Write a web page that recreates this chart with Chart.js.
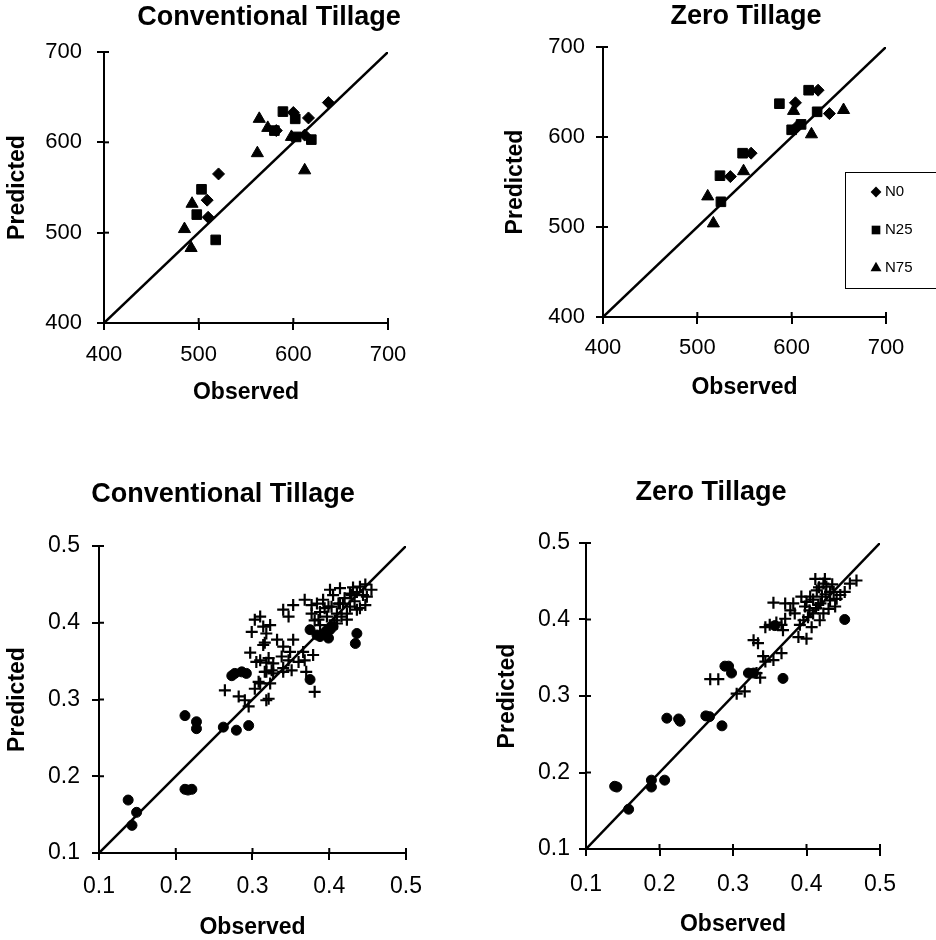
<!DOCTYPE html>
<html>
<head>
<meta charset="utf-8">
<script src="https://cdn.jsdelivr.net/npm/chart.js@4.4.1/dist/chart.umd.min.js"></script>
<style>
html,body{margin:0;padding:0;background:#fff;overflow:hidden;width:936px;height:940px;}
.panel{position:absolute;}
canvas{display:block;}
</style>
</head>
<body>
<div class="panel" style="left:0px;top:0px"><canvas id="c1" width="538" height="407"></canvas></div>
<div class="panel" style="left:500px;top:0px"><canvas id="c2" width="492" height="402"></canvas></div>
<div class="panel" style="left:0px;top:440px"><canvas id="c3" width="446" height="502"></canvas></div>
<div class="panel" style="left:490px;top:440px"><canvas id="c4" width="442" height="499"></canvas></div>
<script>
// ---------- DATA ----------
const panelTitles = ['Conventional Tillage', 'Zero Tillage', 'Conventional Tillage', 'Zero Tillage'];
const xAxisTitle = 'Observed';
const yAxisTitle = 'Predicted';
const yieldTicks = [400, 500, 600, 700];
const ratioTicks = [0.1, 0.2, 0.3, 0.4, 0.5];
const nitrogenSeries = ['N0', 'N25', 'N75'];

// Conventional tillage (top-left) [observed, predicted]
const ctN0 = [[637,644],[616,627],[600,633],[582,613],[612,608],[521,565],[509,536],[510,517]];
const ctN25 = [[589,634],[602,626],[580,613],[603,606],[619,603],[503,548],[498,520],[518,492]];
const ctN75 = [[564,626],[573,616],[598,606],[562,588],[612,569],[493,532],[485,504],[492,483]];

// Zero tillage (top-right)
const ztN0 = [[628,652],[604,638],[640,626],[606,612],[557,582],[535,556]];
const ztN25 = [[618,652],[587,637],[627,628],[600,608],[610,614],[548,582],[524,557],[525,528]];
const ztN75 = [[602,629],[655,630],[621,603],[549,562],[511,534],[517,504]];

// Conventional tillage (bottom-left)
const ctCircles = [[0.138,0.169],[0.149,0.153],[0.143,0.136],[0.212,0.183],[0.216,0.182],[0.221,0.183],
  [0.212,0.279],[0.227,0.271],[0.227,0.262],[0.262,0.264],[0.279,0.260],[0.295,0.266],
  [0.273,0.331],[0.277,0.334],[0.286,0.336],[0.292,0.334],[0.375,0.326],[0.375,0.391],
  [0.384,0.384],[0.388,0.382],[0.394,0.386],[0.399,0.380],[0.401,0.391],[0.405,0.395],
  [0.396,0.389],[0.436,0.386],[0.434,0.373]];
const ctCrosses = [[0.264,0.312],[0.282,0.304],[0.295,0.291],[0.290,0.299],[0.303,0.314],[0.310,0.321],
  [0.318,0.299],[0.323,0.321],[0.318,0.336],[0.327,0.334],[0.297,0.361],[0.305,0.349],[0.318,0.348],
  [0.310,0.408],[0.303,0.404],[0.299,0.388],[0.314,0.395],[0.323,0.397],[0.318,0.386],[0.316,0.374],
  [0.332,0.378],[0.310,0.351],[0.321,0.354],[0.327,0.347],[0.316,0.336],[0.325,0.338],[0.308,0.323],
  [0.321,0.301],[0.314,0.371],[0.340,0.417],[0.347,0.408],[0.353,0.423],[0.353,0.378],[0.340,0.369],
  [0.349,0.362],[0.338,0.356],[0.347,0.351],[0.360,0.349],[0.340,0.341],[0.351,0.338],[0.368,0.351],
  [0.366,0.362],[0.379,0.358],[0.370,0.336],[0.381,0.310],[0.340,0.336],[0.368,0.430],[0.377,0.423],
  [0.377,0.412],[0.388,0.414],[0.392,0.430],[0.399,0.421],[0.405,0.436],[0.410,0.412],[0.414,0.445],
  [0.418,0.425],[0.427,0.438],[0.431,0.446],[0.440,0.447],[0.447,0.450],[0.455,0.443],[0.449,0.434],
  [0.447,0.423],[0.436,0.417],[0.423,0.404],[0.410,0.399],[0.397,0.408],[0.386,0.404],[0.414,0.425],
  [0.401,0.443],[0.381,0.403],[0.388,0.397],[0.407,0.403],[0.423,0.412],[0.384,0.425],[0.394,0.419],
  [0.412,0.425],[0.416,0.408],[0.429,0.436],[0.436,0.440],[0.444,0.436],[0.427,0.421],[0.440,0.419],
  [0.403,0.421],[0.420,0.432],[0.433,0.428]];

// Zero tillage (bottom-right)
const ztCircles = [[0.139,0.182],[0.142,0.181],[0.158,0.152],[0.189,0.190],[0.189,0.181],[0.207,0.190],
  [0.210,0.271],[0.226,0.270],[0.228,0.267],[0.263,0.274],[0.268,0.273],[0.285,0.261],
  [0.289,0.339],[0.294,0.339],[0.298,0.330],[0.321,0.330],[0.328,0.330],[0.368,0.323],
  [0.357,0.392],[0.452,0.400]];
const ztCrosses = [[0.269,0.322],[0.280,0.322],[0.305,0.303],[0.316,0.306],[0.332,0.330],[0.337,0.324],
  [0.328,0.373],[0.334,0.369],[0.341,0.352],[0.344,0.345],[0.355,0.347],[0.366,0.356],[0.366,0.393],
  [0.344,0.390],[0.350,0.393],[0.359,0.396],[0.368,0.386],[0.371,0.401],[0.355,0.422],[0.371,0.421],
  [0.389,0.377],[0.400,0.375],[0.391,0.393],[0.384,0.408],[0.393,0.430],[0.398,0.417],[0.402,0.403],
  [0.407,0.390],[0.412,0.453],[0.425,0.453],[0.414,0.438],[0.421,0.430],[0.416,0.419],[0.423,0.408],
  [0.427,0.443],[0.432,0.425],[0.437,0.436],[0.439,0.417],[0.446,0.432],[0.452,0.436],[0.459,0.447],
  [0.468,0.451],[0.409,0.426],[0.409,0.408],[0.430,0.414],[0.418,0.399],[0.396,0.399],[0.405,0.430],
  [0.423,0.447],[0.382,0.421],[0.378,0.412],[0.432,0.436],[0.441,0.427],[0.413,0.415],[0.419,0.421],
  [0.426,0.433],[0.404,0.412],[0.417,0.442],[0.400,0.423],[0.435,0.446]];

// ---------- RENDERING ----------
const FONT = "'Liberation Sans', Arial, Helvetica, sans-serif";
Chart.defaults.font.family = FONT;
Chart.defaults.color = '#000';

const toXY = arr => arr.map(p => ({x: p[0], y: p[1]}));

const innerTicks = {
  id: 'innerTicks',
  afterDatasetsDraw(chart, args, o) {
    const {ctx, chartArea: a} = chart;
    const len = o.len || 5;
    ctx.save();
    ctx.strokeStyle = '#000';
    ctx.lineWidth = 2;
    chart.scales.x.ticks.forEach(t => {
      const p = chart.scales.x.getPixelForValue(t.value);
      ctx.beginPath(); ctx.moveTo(p, a.bottom); ctx.lineTo(p, a.bottom - len); ctx.stroke();
    });
    chart.scales.y.ticks.forEach(t => {
      const p = chart.scales.y.getPixelForValue(t.value);
      ctx.beginPath(); ctx.moveTo(a.left, p); ctx.lineTo(a.left + len, p); ctx.stroke();
    });
    ctx.restore();
  }
};

function drawSymbol(ctx, style, x, y, r) {
  ctx.beginPath();
  if (style === 'rectRot') {
    ctx.moveTo(x, y - r); ctx.lineTo(x + r, y); ctx.lineTo(x, y + r); ctx.lineTo(x - r, y);
  } else if (style === 'rect') {
    const s = r * Math.SQRT1_2;
    ctx.rect(x - s, y - s, 2 * s, 2 * s);
  } else {
    ctx.moveTo(x, y - r);
    ctx.lineTo(x + r * Math.sin(Math.PI * 2 / 3), y - r * Math.cos(Math.PI * 2 / 3));
    ctx.lineTo(x + r * Math.sin(Math.PI * 4 / 3), y - r * Math.cos(Math.PI * 4 / 3));
  }
  ctx.closePath();
  ctx.fill();
}

const boxLegend = {
  id: 'boxLegend',
  afterDraw(chart, args, o) {
    if (!o.show) return;
    const {ctx, chartArea: a} = chart;
    const left = a.right + o.dx, top = a.top + o.dy;
    ctx.save();
    ctx.strokeStyle = '#000';
    ctx.lineWidth = 1;
    ctx.strokeRect(Math.round(left) + 0.5, Math.round(top) + 0.5, o.w, o.h);
    ctx.fillStyle = '#000';
    ctx.font = '15px ' + FONT;
    ctx.textBaseline = 'middle';
    ctx.textAlign = 'left';
    nitrogenSeries.forEach((name, i) => {
      const ds = chart.data.datasets[i];
      const y = top + o.first + i * o.gap;
      drawSymbol(ctx, ds.pointStyle, left + o.sym, y, ds.pointRadius * 0.9);
      ctx.fillText(name, left + o.text, y);
    });
    ctx.restore();
  }
};

function buildPanel(id, cfg) {
  const tickList = cfg.ticks;
  const fmt = cfg.fmt;
  const scaleCommon = (tickPad, fontSize) => ({
    type: 'linear',
    min: tickList[0],
    max: tickList[tickList.length - 1],
    afterBuildTicks: s => { s.ticks = tickList.map(v => ({value: v})); },
    grid: {display: true, drawOnChartArea: false, drawTicks: true, tickLength: 7, color: '#000', lineWidth: 2},
    border: {display: true, color: '#000', width: 2},
    ticks: {padding: tickPad, font: {size: fontSize}, color: '#000', callback: v => fmt(v), maxRotation: 0, autoSkip: false}
  });
  const x = Object.assign(scaleCommon(cfg.xTickPad, cfg.tickFont), {
    position: 'bottom',
    title: {display: true, text: xAxisTitle, font: {size: 23, weight: 'bold'}, color: '#000', padding: {top: 0, bottom: 0.2}},
    afterFit: s => { s.height = cfg.xH; }
  });
  const y = Object.assign(scaleCommon(cfg.yTickPad, cfg.tickFont), {
    position: 'left',
    title: {display: true, text: yAxisTitle, font: {size: 23, weight: 'bold'}, color: '#000', padding: {top: cfg.yTitlePad, bottom: 0}},
    afterFit: s => { s.width = cfg.yW; }
  });
  const y2 = {
    type: 'linear', position: 'right', display: true, min: 0, max: 1,
    grid: {display: false, drawTicks: false}, border: {display: false},
    ticks: {display: false},
    afterFit: s => { s.width = cfg.y2W; }
  };
  const lo = tickList[0], hi = tickList[tickList.length - 1];
  const datasets = cfg.series.map(s => ({
    label: s.label,
    data: toXY(s.data),
    pointStyle: s.style,
    pointRadius: s.radius,
    pointBorderWidth: s.bw,
    backgroundColor: '#000',
    borderColor: '#000',
    showLine: false
  }));
  datasets.push({
    label: '1:1',
    data: [{x: lo, y: lo}, {x: hi, y: hi}],
    showLine: true,
    borderColor: '#000',
    borderWidth: 2.5,
    pointRadius: 0,
    fill: false
  });
  return new Chart(document.getElementById(id), {
    type: 'scatter',
    data: {datasets},
    options: {
      responsive: false,
      animation: false,
      devicePixelRatio: 1,
      events: [],
      layout: {padding: 0},
      scales: {x, y, y2},
      plugins: {
        legend: {display: false},
        tooltip: {enabled: false},
        title: {display: true, text: cfg.title, color: '#000',
          font: {size: 27, weight: 'bold', lineHeight: 1.2},
          padding: {top: cfg.titlePad[0], bottom: cfg.titlePad[1]}},
        innerTicks: {len: 5},
        boxLegend: cfg.legend || {show: false}
      }
    },
    plugins: [innerTicks, boxLegend]
  });
}

const yieldFmt = v => String(v);
const ratioFmt = v => Number(v).toFixed(1);

// title lineHeight = 27*1.2 = 32.4
buildPanel('c1', {
  title: panelTitles[0], ticks: yieldTicks, fmt: yieldFmt, tickFont: 22,
  yW: 104, y2W: 150, xH: 84, titlePad: [1.8, 17.8], yTitlePad: 3.7, yTickPad: 15, xTickPad: 11.8,
  series: [
    {label: nitrogenSeries[0], data: ctN0, style: 'rectRot', radius: 6, bw: 1},
    {label: nitrogenSeries[1], data: ctN25, style: 'rect', radius: 6.8, bw: 1},
    {label: nitrogenSeries[2], data: ctN75, style: 'triangle', radius: 7, bw: 1}
  ]
});
buildPanel('c2', {
  title: panelTitles[1], ticks: yieldTicks, fmt: yieldFmt, tickFont: 22,
  yW: 103, y2W: 106, xH: 85, titlePad: [0, 14.6], yTitlePad: 2.2, yTickPad: 11, xTickPad: 10.8,
  series: [
    {label: nitrogenSeries[0], data: ztN0, style: 'rectRot', radius: 6, bw: 1},
    {label: nitrogenSeries[1], data: ztN25, style: 'rect', radius: 6.8, bw: 1},
    {label: nitrogenSeries[2], data: ztN75, style: 'triangle', radius: 7, bw: 1}
  ],
  legend: {show: true, dx: -41, dy: 125, w: 130, h: 116, first: 20, gap: 38, sym: 31, text: 40}
});
buildPanel('c3', {
  title: panelTitles[2], ticks: ratioTicks, fmt: ratioFmt, tickFont: 23,
  yW: 99, y2W: 40, xH: 89, titlePad: [38.8, 34.8], yTitlePad: 3.7, yTickPad: 12, xTickPad: 13.2,
  series: [
    {label: 'Simulated', data: ctCircles, style: 'circle', radius: 5, bw: 1},
    {label: 'Measured', data: ctCrosses, style: 'cross', radius: 6, bw: 2.2}
  ]
});
buildPanel('c4', {
  title: panelTitles[3], ticks: ratioTicks, fmt: ratioFmt, tickFont: 23,
  yW: 96, y2W: 52, xH: 90, titlePad: [36.8, 33.8], yTitlePad: 4.2, yTickPad: 9, xTickPad: 15.2,
  series: [
    {label: 'Simulated', data: ztCircles, style: 'circle', radius: 5, bw: 1},
    {label: 'Measured', data: ztCrosses, style: 'cross', radius: 6, bw: 2.2}
  ]
});
</script>
</body>
</html>
